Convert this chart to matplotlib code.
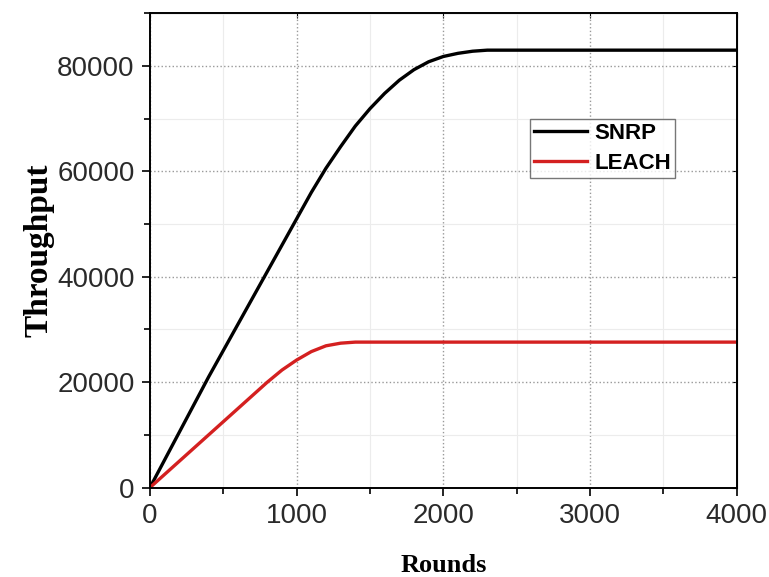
import matplotlib.pyplot as plt
import numpy as np
from matplotlib.ticker import MultipleLocator

rounds_snrp = [0, 200, 400, 600, 800, 1000, 1100, 1200, 1300, 1400, 1500, 1600, 1700, 1800, 1900, 2000, 2100, 2200, 2300, 2500, 3000, 3500, 4000]
snrp = [0, 10500, 21000, 31000, 41000, 51000, 56000, 60600, 64700, 68600, 71900, 74800, 77300, 79300, 80800, 81800, 82400, 82800, 83000, 83000, 83000, 83000, 83000]

rounds_leach = [0, 200, 400, 600, 800, 900, 1000, 1100, 1200, 1300, 1400, 1500, 2000, 3000, 4000]
leach = [0, 5000, 10000, 15000, 20000, 22300, 24200, 25800, 26900, 27400, 27600, 27600, 27600, 27600, 27600]

fig = plt.figure(figsize=(7.69, 5.77), dpi=100)
ax = fig.add_axes([0.195, 0.155, 0.763, 0.822])

ax.plot(rounds_snrp, snrp, color='black', lw=2.4, label='SNRP')
ax.plot(rounds_leach, leach, color='#d42020', lw=2.4, label='LEACH')

ax.set_xlim(0, 4000)
ax.set_ylim(0, 90000)
ax.xaxis.set_major_locator(MultipleLocator(1000))
ax.xaxis.set_minor_locator(MultipleLocator(500))
ax.yaxis.set_major_locator(MultipleLocator(20000))
ax.yaxis.set_minor_locator(MultipleLocator(10000))

ax.grid(which='major', color='#999999', ls=':', lw=1)
ax.grid(which='minor', color='#ececec', ls='-', lw=0.8)

ax.tick_params(which='both', direction='out', labelsize=20, width=1.2, labelcolor='#2a2a2a')
ax.tick_params(which='major', length=6, pad=5)
ax.tick_params(which='minor', length=4)
for lab in ax.get_xticklabels() + ax.get_yticklabels():
    lab.set_family('Liberation Sans')
for s in ax.spines.values():
    s.set_linewidth(1.4)

ax2 = ax.secondary_xaxis('top')
ax2.xaxis.set_major_locator(MultipleLocator(1000))
ax2.xaxis.set_minor_locator(MultipleLocator(500))
ax2.tick_params(which='both', direction='in', labeltop=False)
ax3 = ax.secondary_yaxis('right')
ax3.yaxis.set_major_locator(MultipleLocator(20000))
ax3.yaxis.set_minor_locator(MultipleLocator(10000))
ax3.tick_params(which='both', direction='in', labelright=False)

ax.set_xlabel('Rounds', fontsize=19, fontweight='bold', family='Liberation Serif', labelpad=18)
ax.set_ylabel('Throughput', fontsize=24, fontweight='bold', family='Liberation Serif', labelpad=2)

leg = ax.legend(loc='upper left', bbox_to_anchor=(0.647, 0.778), fancybox=False, edgecolor='#555555',
                prop={'family': 'Liberation Sans', 'weight': 'bold', 'size': 16}, handlelength=2.4,
                borderpad=0.2, labelspacing=0.4, handletextpad=0.3, borderaxespad=0)
leg.get_frame().set_linewidth(1)

fig.savefig('out.png', dpi=100)
